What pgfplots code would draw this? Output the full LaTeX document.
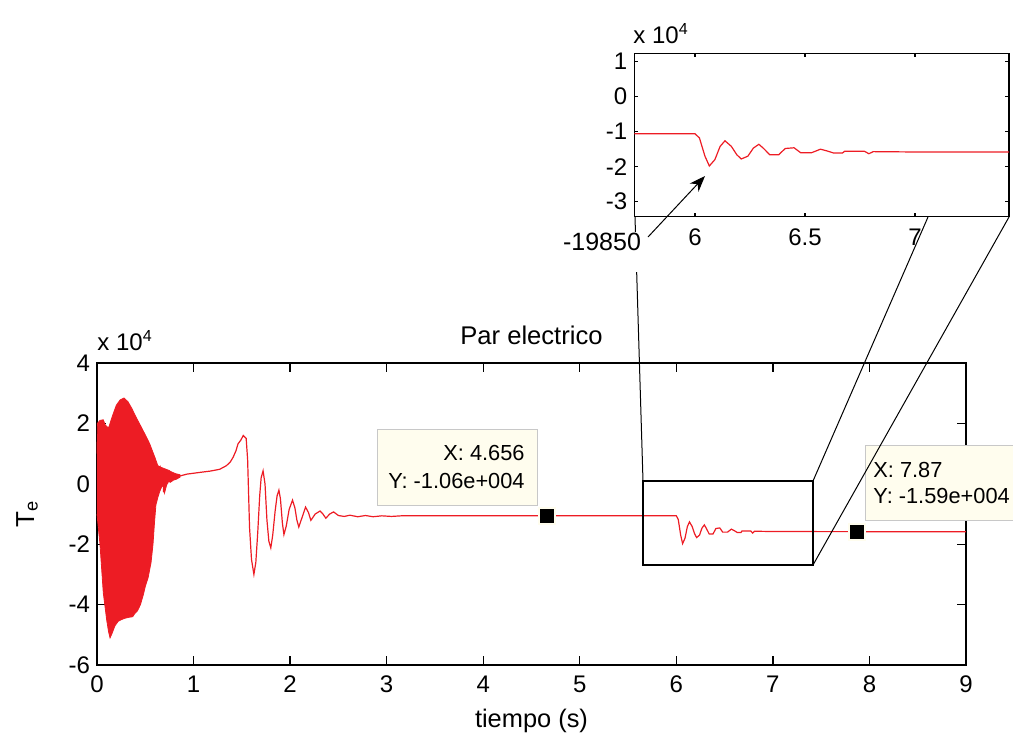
\documentclass[border=0pt]{standalone}
\usepackage{fontspec}
\setmainfont{Liberation Sans}
\usepackage{pgfplots}
\usepackage{pgfplotstable}
\pgfplotsset{compat=1.18}
\usetikzlibrary{arrows.meta}
\definecolor{sigred}{RGB}{237,28,36}
\definecolor{tipfill}{RGB}{255,253,238}
\definecolor{tipedge}{RGB}{200,200,200}

% dense start-up oscillation: upper envelope, then lower envelope (values x 10^4)
\pgfplotstableread{
t v
0.000 1.00
0.004 2.00
0.031 2.10
0.065 2.12
0.085 1.95
0.100 1.90
0.120 1.85
0.135 2.00
0.166 2.30
0.200 2.60
0.240 2.78
0.280 2.84
0.320 2.72
0.360 2.50
0.390 2.30
0.430 2.05
0.460 1.87
0.500 1.62
0.545 1.33
0.600 0.87
0.630 0.60
0.660 0.55
0.700 0.50
0.740 0.45
0.780 0.38
0.820 0.33
0.860 0.30
0.860 0.22
0.820 0.15
0.790 0.12
0.760 0.05
0.740 0.08
0.720 -0.05
0.700 -0.30
0.690 -0.05
0.670 -0.10
0.650 -0.25
0.630 -0.45
0.610 -0.70
0.595 -1.30
0.580 -2.00
0.560 -2.60
0.530 -3.10
0.500 -3.40
0.480 -3.67
0.450 -4.00
0.420 -4.20
0.390 -4.30
0.370 -4.40
0.330 -4.42
0.290 -4.45
0.250 -4.50
0.220 -4.55
0.186 -4.70
0.150 -5.00
0.135 -5.10
0.120 -4.90
0.100 -4.50
0.065 -3.60
0.031 -2.00
0.015 -1.50
0.000 -1.00
}\envelope

% electrical torque after the start-up (values x 10^4)
\pgfplotstableread{
t v
0.620 0.55
0.640 0.30
0.655 0.50
0.670 0.00
0.680 0.35
0.690 -0.28
0.700 0.30
0.720 0.40
0.735 0.10
0.750 0.38
0.770 0.20
0.790 0.33
0.810 0.22
0.830 0.30
0.860 0.26
0.930 0.32
1.070 0.38
1.170 0.42
1.270 0.48
1.340 0.60
1.380 0.72
1.410 0.88
1.440 1.10
1.460 1.32
1.490 1.45
1.515 1.60
1.545 1.50
1.560 0.80
1.580 -1.45
1.600 -2.50
1.625 -3.00
1.645 -2.60
1.665 -1.60
1.685 -0.40
1.700 0.20
1.720 0.43
1.740 0.00
1.760 -1.20
1.780 -1.90
1.800 -2.12
1.820 -1.70
1.845 -0.90
1.865 -0.40
1.884 -0.21
1.900 -0.50
1.920 -1.30
1.936 -1.68
1.960 -1.40
1.990 -0.85
2.025 -0.54
2.050 -0.80
2.070 -1.20
2.090 -1.43
2.120 -1.15
2.160 -0.77
2.190 -0.95
2.215 -1.21
2.260 -1.00
2.310 -0.90
2.340 -1.00
2.370 -1.14
2.410 -1.00
2.450 -0.93
2.500 -1.05
2.560 -1.08
2.620 -1.04
2.700 -1.09
2.780 -1.05
2.860 -1.09
2.950 -1.06
3.050 -1.08
3.150 -1.06
6.000 -1.06
6.020 -1.18
6.045 -1.70
6.065 -1.98
6.090 -1.80
6.114 -1.42
6.136 -1.26
6.165 -1.42
6.190 -1.66
6.210 -1.78
6.240 -1.70
6.265 -1.47
6.290 -1.36
6.310 -1.47
6.340 -1.66
6.380 -1.66
6.410 -1.48
6.450 -1.46
6.480 -1.60
6.530 -1.60
6.570 -1.50
6.600 -1.55
6.630 -1.61
6.670 -1.61
6.680 -1.56
6.770 -1.56
6.790 -1.63
6.810 -1.57
7.000 -1.58
9.000 -1.59
}\torque

\pgfplotsset{
  matlab/.style={
    scale only axis,
    tick align=inside,
    axis line style={line width=0.65pt},
    every tick/.style={black, line width=0.65pt},
    tick label style={font=\fontsize{12}{14}\selectfont},
  }
}

\begin{document}
\begin{tikzpicture}
\useasboundingbox (0,0) rectangle (506.5pt,-368pt);

% ---------------- main axis ----------------
\begin{axis}[
  matlab,
  at={(48.5pt,-332.5pt)}, anchor=south west,
  width=434.5pt, height=151pt,
  xmin=0, xmax=9, ymin=-6, ymax=4,
  xtick={0,1,2,3,4,5,6,7,8,9},
  xticklabels={0,1,2,3,4,5,6,7,8,9},
  ytick={-6,-4,-2,0,2,4},
  yticklabels={-6,-4,-2,0,2,4},
  major tick length=4.5pt,
  xticklabel style={yshift=-2pt},
  title={Par electrico},
  title style={font=\fontsize{12.8}{15}\selectfont, at={(axis description cs:0.5,1)}, anchor=base, yshift=3.5pt},
  xlabel={tiempo (s)},
  xlabel style={font=\fontsize{12.7}{15}\selectfont, at={(axis description cs:0.5,0)}, anchor=base, yshift=-31pt},
  ylabel={T\textsubscript{e}},
  ylabel style={font=\fontsize{13}{15}\selectfont, at={([xshift=-31.5pt]axis description cs:0,0.5)}, anchor=base, rotate=0},
  clip=false,
]
\addplot[draw=sigred, fill=sigred, line width=0.4pt] table[x=t,y=v] {\envelope};
\addplot[sigred, line width=0.6pt] table[x=t,y=v] {\torque};

% data tips
\draw[tipedge, fill=tipfill, line width=0.5pt] (axis cs:2.910,1.815) rectangle (axis cs:4.557,-0.702);
\node[anchor=base east, inner sep=0pt, font=\fontsize{10.9}{13}\selectfont] at (axis cs:4.433,0.788) {X: 4.656};
\node[anchor=base east, inner sep=0pt, font=\fontsize{10.9}{13}\selectfont] at (axis cs:4.433,-0.139) {Y: -1.06e+004};
\draw[tipedge, fill=tipfill, line width=0.5pt] (axis cs:7.954,1.285) rectangle (axis cs:9.70,-1.199);
\node[anchor=base west, inner sep=0pt, font=\fontsize{10.9}{13}\selectfont] at (axis cs:8.037,0.225) {X: 7.87};
\node[anchor=base west, inner sep=0pt, font=\fontsize{10.9}{13}\selectfont] at (axis cs:8.037,-0.636) {Y: -1.59e+004};

\addplot[only marks, mark=square*, mark size=4.2pt, color=tipfill] coordinates {(4.656,-1.06) (7.87,-1.59)};
\addplot[only marks, mark=square*, mark size=3.2pt, color=black] coordinates {(4.656,-1.06) (7.87,-1.59)};
\end{axis}

% ---------------- inset axis ----------------
\begin{axis}[
  matlab,
  at={(317.15pt,-108.35pt)}, anchor=south west,
  width=187.35pt, height=81.7pt,
  xmin=5.724, xmax=7.427, ymin=-3.43, ymax=1.24,
  xtick={6,6.5,7}, xticklabels={6,6.5,7},
  ytick={-3,-2,-1,0,1}, yticklabels={-3,-2,-1,0,1},
  major tick length=2pt,
  xticklabel style={yshift=-2.5pt},
]
\addplot[sigred, line width=0.6pt] table[x=t,y=v] {\torque};
\end{axis}

% ---------------- annotations (pixel coordinates of the reference) ----------------
\begin{scope}[x=0.5pt, y=-0.5pt]
  \node[anchor=base west, inner sep=0pt, font=\fontsize{12}{14}\selectfont] at (97,350) {x 10\textsuperscript{4}};
  \node[anchor=base west, inner sep=0pt, font=\fontsize{12}{14}\selectfont] at (633,43) {x 10\textsuperscript{4}};

  \draw[line width=0.65pt] (643,481) rectangle (813,565);
  \draw[line width=0.5pt] (813,481) -- (928,217);
  \draw[line width=0.5pt] (813,565) -- (1009,217);
  \draw[line width=0.5pt] (635,217) -- (643,481);
  \draw[line width=1.4pt] (643,481) -- (643,535);

  \fill[white] (560,232) rectangle (645,272);
  \node[anchor=base, inner sep=0pt, font=\fontsize{12.5}{14}\selectfont] at (602,250) {-19850};
  \draw[line width=0.5pt, -{Stealth[length=8pt,width=6pt]}] (648,237) -- (705,176);
\end{scope}
\end{tikzpicture}
\end{document}
